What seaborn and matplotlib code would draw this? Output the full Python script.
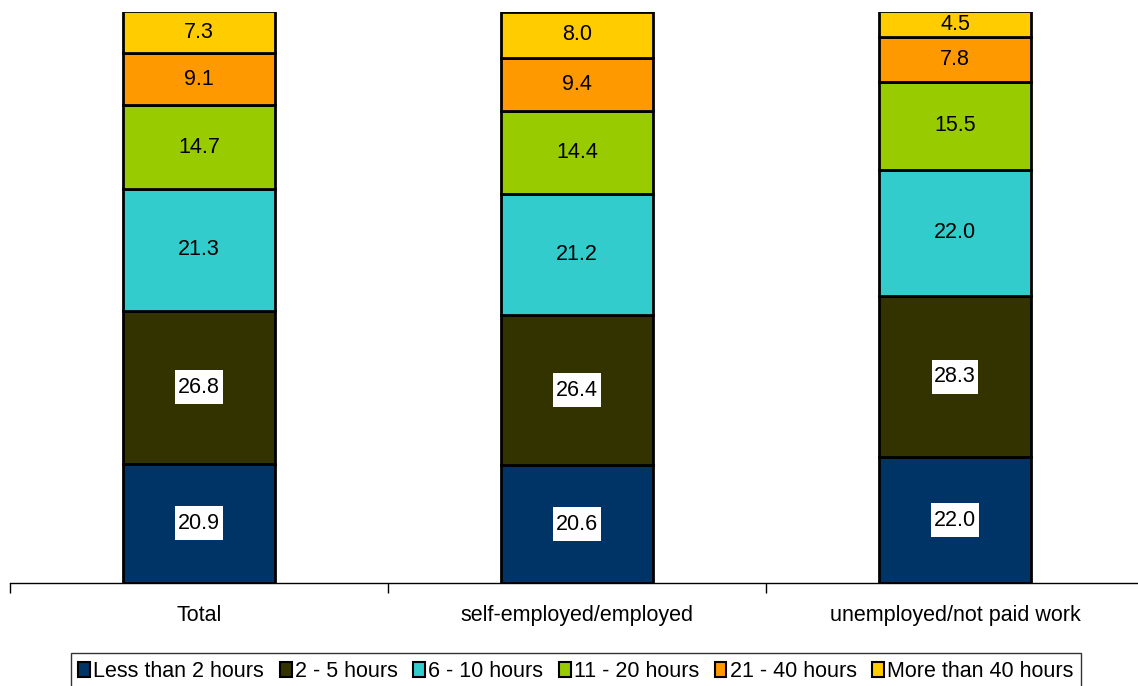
import matplotlib
matplotlib.use("Agg")
import matplotlib.pyplot as plt
import seaborn as sns
import numpy as np
import pandas as pd
from matplotlib.patches import Patch
from matplotlib.path import Path

sns.set_theme(style="white")
plt.rcParams['font.family'] = ['Liberation Sans', 'DejaVu Sans']

categories = ["Total", "self-employed/employed", "unemployed/not paid work"]
series_names = ["Less than 2 hours", "2 - 5 hours", "6 - 10 hours",
                "11 - 20 hours", "21 - 40 hours", "More than 40 hours"]
less_2 = [20.9, 20.6, 22.0]
h2_5 = [26.8, 26.4, 28.3]
h6_10 = [21.3, 21.2, 22.0]
h11_20 = [14.7, 14.4, 15.5]
h21_40 = [9.1, 9.4, 7.8]
more_40 = [7.3, 8.0, 4.5]
series_values = [less_2, h2_5, h6_10, h11_20, h21_40, more_40]
colors = ["#003366", "#333300", "#33CCCC", "#99CC00", "#FF9900", "#FFCC00"]


def label_box(x0, y0, width, height, mutation_size):
    px = 0.12 * mutation_size
    py = 0.3 * mutation_size
    x0, y0 = x0 - px, y0 - py
    x1, y1 = x0 + width + 2 * px, y0 + height + 2 * py
    return Path([(x0, y0), (x1, y0), (x1, y1), (x0, y1), (x0, y0)], closed=True)


fig = plt.figure(figsize=(11.38, 6.86), dpi=100)
ax = fig.add_axes([10/1138, 103/686, 1134/1138, 571/686])

bottom = np.zeros(len(categories))
for name, vals, col in zip(series_names, series_values, colors):
    df = pd.DataFrame({"cat": categories, "val": vals})
    sns.barplot(data=df, x="cat", y="val", color=col, bottom=bottom, width=0.4,
                edgecolor="black", linewidth=2, saturation=1, ax=ax)
    bottom = bottom + np.array(vals)

# labels
bottom = np.zeros(len(categories))
for i, (vals, col) in enumerate(zip(series_values, colors)):
    for j, v in enumerate(vals):
        y = bottom[j] + v / 2
        kw = {}
        if i < 2:
            kw["bbox"] = dict(boxstyle=label_box, facecolor="white", edgecolor="none")
        ax.text(j, y, f"{v:.1f}", ha="center", va="center", fontsize=15.5,
                color="black", **kw)
    bottom = bottom + np.array(vals)

ax.set_ylim(0, 100)
ax.set_xlim(-0.5, 2.5)
ax.set_xlabel("")
ax.set_ylabel("")
ax.set_yticks([])
for s in ["top", "right", "left"]:
    ax.spines[s].set_visible(False)
ax.spines["bottom"].set_color("black")
ax.spines["bottom"].set_linewidth(1)
ax.set_xticks([0, 1, 2])
ax.set_xticklabels(categories, fontsize=15.5, color="black")
ax.tick_params(axis="x", which="major", bottom=False, length=0, pad=16)
ax.set_xticks([-0.5, 0.5, 1.5, 2.5], minor=True)
ax.tick_params(axis="x", which="minor", bottom=True, length=7, width=1,
               color="black", direction="out")

handles = [Patch(facecolor=c, edgecolor="black", linewidth=1.5) for c in colors]
leg = fig.legend(handles, series_names, loc="lower center", bbox_to_anchor=(576/1138, -0.005),
                 ncol=6, fontsize=15.5, frameon=True, fancybox=False,
                 handlelength=0.55, handleheight=0.75, handletextpad=0.15,
                 columnspacing=0.72, borderpad=0.35, borderaxespad=0.0)
leg.get_frame().set_edgecolor("black")
leg.get_frame().set_linewidth(1)
for t in leg.get_texts():
    t.set_color("black")

fig.savefig("out.png", dpi=100)
